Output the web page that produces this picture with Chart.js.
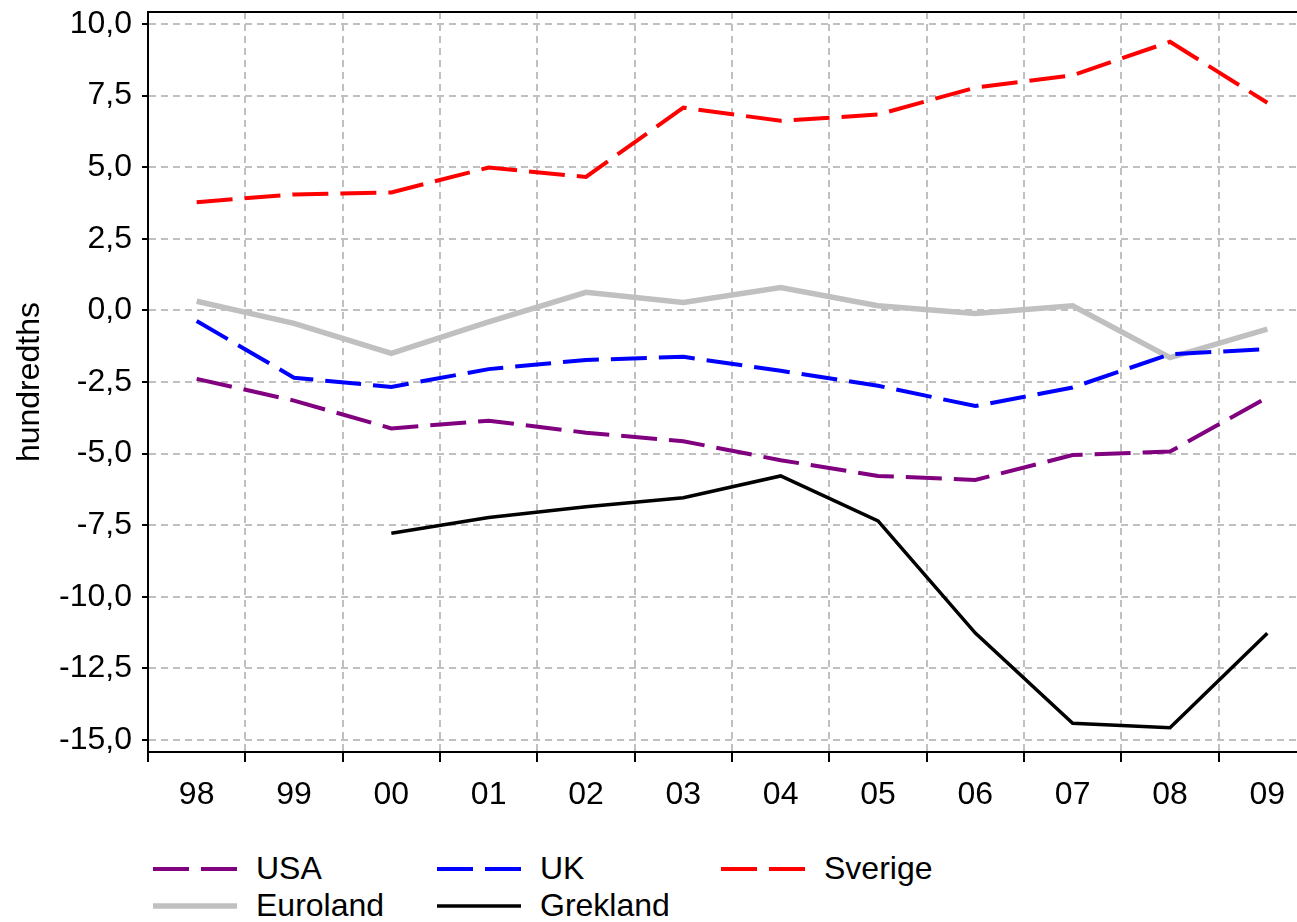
<!DOCTYPE html>
<html>
<head>
<meta charset="utf-8">
<script src="https://cdn.jsdelivr.net/npm/chart.js@4.4.1/dist/chart.umd.min.js"></script>
<style>
  html, body { margin: 0; padding: 0; background: #fff; overflow: hidden; }
  #balanceChart { position: absolute; left: 0; top: 0; }
  #legend { position: absolute; left: 0; top: 830px; }
</style>
</head>
<body>
<canvas id="balanceChart" width="1316" height="830"></canvas>
<svg id="legend" width="1297" height="92" xmlns="http://www.w3.org/2000/svg"></svg>
<script>
// years on the x axis
const years = ["98", "99", "00", "01", "02", "03", "04", "05", "06", "07", "08", "09"];

// series, one value per year
const usa = [-2.39, -3.15, -4.12, -3.85, -4.27, -4.57, -5.23, -5.78, -5.92, -5.05, -4.93, -3.04];
const uk = [-0.37, -2.35, -2.67, -2.05, -1.73, -1.62, -2.11, -2.63, -3.34, -2.69, -1.53, -1.35];
const sverige = [3.78, 4.05, 4.12, 4.99, 4.66, 7.08, 6.62, 6.84, 7.78, 8.21, 9.38, 7.25];
const euroland = [0.32, -0.45, -1.5, -0.4, 0.63, 0.28, 0.8, 0.16, -0.11, 0.16, -1.65, -0.65];
const grekland = [null, null, -7.78, -7.23, -6.86, -6.54, -5.78, -7.35, -11.27, -14.42, -14.57, -11.27];

// y axis range and tick step
const yMin = -15.42;
const yMax = 10.42;
const yStep = 2.5;

const dash = [36, 12];
const fontFamily = "'Liberation Sans', Arial, sans-serif";

Chart.defaults.font.family = fontFamily;
Chart.defaults.font.size = 32;
Chart.defaults.color = "#000";

const series = [
  { label: "USA", data: usa, color: "#800080", width: 4, dash: dash },
  { label: "UK", data: uk, color: "#0000ff", width: 4, dash: dash },
  { label: "Sverige", data: sverige, color: "#ff0000", width: 4, dash: dash },
  { label: "Euroland", data: euroland, color: "#c0c0c0", width: 5.5, dash: [] },
  { label: "Grekland", data: grekland, color: "#000000", width: 3.5, dash: [] },
];

// line along the top of the plot box
const topFrame = {
  id: "topFrame",
  afterDraw(chart) {
    const { ctx, chartArea } = chart;
    ctx.save();
    ctx.strokeStyle = "#000";
    ctx.lineWidth = 2;
    ctx.beginPath();
    ctx.moveTo(chartArea.left, chartArea.top);
    ctx.lineTo(chartArea.right, chartArea.top);
    ctx.stroke();
    ctx.restore();
  },
};

const ctx = document.getElementById("balanceChart").getContext("2d");
const chart = new Chart(ctx, {
  type: "line",
  data: {
    labels: years,
    datasets: series.map((s) => ({
      label: s.label,
      data: s.data,
      borderColor: s.color,
      backgroundColor: s.color,
      borderWidth: s.width,
      borderDash: s.dash,
      borderCapStyle: "butt",
      pointRadius: 0,
      tension: 0,
      fill: false,
    })),
  },
  options: {
    responsive: false,
    animation: false,
    layout: { padding: { top: 12, left: 0, right: 0, bottom: 0 } },
    plugins: {
      legend: { display: false },
      tooltip: { enabled: false },
    },
    scales: {
      x: {
        type: "category",
        offset: true,
        grid: {
          offset: true,
          color: "#c0c0c0",
          lineWidth: 2,
          tickLength: 10,
          tickColor: "#000",
          tickWidth: 2,
        },
        border: { color: "#000", width: 2, dash: [7, 5] },
        ticks: { padding: 14, maxRotation: 0, autoSkip: false },
        afterFit: (scale) => {
          scale.height = 78;
          scale.paddingLeft = 0;
          scale.paddingRight = 0;
        },
      },
      y: {
        min: yMin,
        max: yMax,
        grid: {
          color: "#c0c0c0",
          lineWidth: 2,
          tickLength: 6,
          tickColor: "#000",
          tickWidth: 2,
        },
        border: { color: "#000", width: 2, dash: [7, 5] },
        ticks: {
          stepSize: yStep,
          includeBounds: false,
          padding: 10,
          callback: (v) => v.toFixed(1).replace(".", ","),
        },
        title: {
          display: true,
          text: "hundredths",
          padding: { top: 11, bottom: 0 },
        },
        afterFit: (scale) => {
          scale.width = 148;
          scale.paddingTop = 0;
          scale.paddingBottom = 0;
        },
      },
    },
  },
  plugins: [topFrame],
});

// legend: three columns, two rows
const svgNS = "http://www.w3.org/2000/svg";
const legend = document.getElementById("legend");
chart.data.datasets.forEach((ds, i) => {
  const col = i % 3;
  const row = Math.floor(i / 3);
  const x0 = 153 + col * 284;
  const y0 = 39 + row * 37;

  const line = document.createElementNS(svgNS, "line");
  line.setAttribute("x1", x0);
  line.setAttribute("x2", x0 + 84);
  line.setAttribute("y1", y0);
  line.setAttribute("y2", y0);
  line.setAttribute("stroke", ds.borderColor);
  line.setAttribute("stroke-width", ds.borderWidth);
  if (ds.borderDash.length) line.setAttribute("stroke-dasharray", ds.borderDash.join(" "));
  legend.appendChild(line);

  const text = document.createElementNS(svgNS, "text");
  text.setAttribute("x", x0 + 103);
  text.setAttribute("y", y0 + 10);
  text.setAttribute("font-family", fontFamily);
  text.setAttribute("font-size", "32");
  text.setAttribute("fill", "#000");
  text.textContent = ds.label;
  legend.appendChild(text);
});
</script>
</body>
</html>
